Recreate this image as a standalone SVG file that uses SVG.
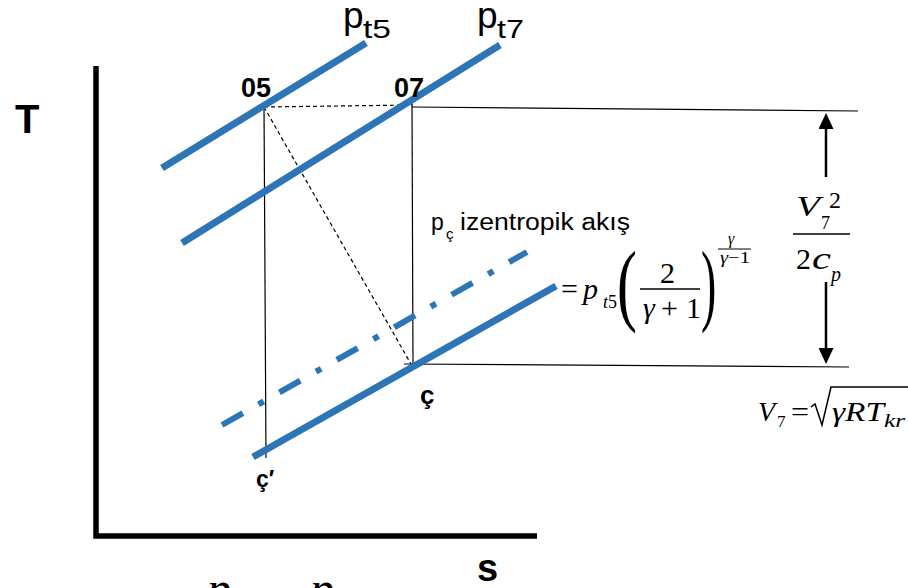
<svg xmlns="http://www.w3.org/2000/svg" width="908" height="588" viewBox="0 0 908 588">
<style>
.axis{stroke:#000;stroke-width:5.5;fill:none;stroke-linejoin:miter}
.iso{stroke:#2E75B6;stroke-width:7;fill:none}
.isodd{stroke:#2E75B6;stroke-width:6;stroke-dasharray:24 18 6 18;fill:none}
.thin{stroke:#000;stroke-width:1.2;fill:none}
.dash{stroke:#000;stroke-width:1.2;stroke-dasharray:4 3;fill:none}
.arr{stroke:#000;stroke-width:2.5;fill:none}
.bar{stroke:#000;stroke-width:1.5;fill:none}
.lbl{font-family:"Liberation Sans",Arial,sans-serif;fill:#000}
.b{font-weight:bold}
.m{font-family:"Liberation Serif","Times New Roman",serif;fill:#000}
.i{font-style:italic}
</style>
<defs>
<marker id="ah" viewBox="0 0 16 15" markerWidth="16" markerHeight="15" refX="0" refY="7.5" orient="auto" markerUnits="userSpaceOnUse">
<path d="M0,0 L16,7.5 L0,15 z" fill="#000"/>
</marker>
</defs>

<g id="axes">
<path class="axis" d="M96,66 V536 H537"/>
<text class="lbl b" x="15" y="133" font-size="40">T</text>
<text class="lbl b" x="477" y="581" font-size="38">s</text>
</g>

<g id="connectors">
<path class="thin" d="M264,104 L266,458"/>
<path class="thin" d="M412,103 L413,366"/>
<path class="thin" d="M412,107 L858,111"/>
<path class="thin" d="M404,364 L849,367"/>
<path class="dash" d="M264,107 L412,105"/>
<path class="dash" d="M264,107 L411,364"/>
<path class="arr" d="M826,177 V129" marker-end="url(#ah)"/>
<path class="arr" d="M826,282 V348" marker-end="url(#ah)"/>
</g>

<g id="isobar-pt5">
<path class="iso" d="M162,168 L366,43"/>
<text class="lbl" x="343" y="28" font-size="37">p<tspan x="363" y="38" font-size="25" textLength="28" lengthAdjust="spacingAndGlyphs">t5</tspan></text>
</g>

<g id="isobar-pt7">
<path class="iso" d="M182,243 L500,45"/>
<text class="lbl" x="477" y="28" font-size="37">p<tspan x="497" y="38" font-size="25" textLength="27" lengthAdjust="spacingAndGlyphs">t7</tspan></text>
</g>

<g id="isobar-pc">
<path class="iso" d="M253,457 L556,286"/>
</g>

<g id="isobar-pc-isentropic">
<path class="isodd" d="M222,425 L527,252"/>
<text class="lbl" x="431" y="230" font-size="23">p<tspan x="446" y="239" font-size="15">ç</tspan><tspan x="460" y="230" textLength="170" lengthAdjust="spacingAndGlyphs">izentropik akış</tspan></text>
</g>

<g id="state-05"><text class="lbl b" x="241" y="97" font-size="27">05</text></g>
<g id="state-07"><text class="lbl b" x="394" y="97" font-size="27">07</text></g>
<g id="state-c"><text class="lbl b" x="420" y="404" font-size="26">ç</text></g>
<g id="state-c-prime"><text class="lbl b" x="256" y="487" font-size="23">ç′</text></g>

<g id="eq-pc">
<text class="m" x="561" y="299" font-size="30">=</text>
<text class="m i" x="583" y="299" font-size="30">p</text>
<text class="m" x="603" y="308" font-size="18"><tspan class="i">t</tspan>5</text>
<text class="m" transform="translate(617,314) scale(0.65,1)" font-size="92">(</text>
<text class="m" x="660" y="283" font-size="30">2</text>
<path class="bar" d="M640,289 H700"/>
<text class="m" y="318" font-size="30"><tspan class="i" x="643">γ</tspan><tspan x="661">+</tspan><tspan x="686">1</tspan></text>
<text class="m" transform="translate(701,314) scale(0.5,1)" font-size="92">)</text>
<text class="m i" x="728" y="244" font-size="16">γ</text>
<path class="bar" d="M718,249 H751" style="stroke-width:1"/>
<text class="m" x="720" y="263" font-size="16" textLength="30" lengthAdjust="spacingAndGlyphs"><tspan class="i">γ</tspan>−1</text>
</g>

<g id="eq-dh">
<text class="m i" x="796" y="216" font-size="30" textLength="24" lengthAdjust="spacingAndGlyphs">V</text>
<text class="m" x="821" y="229" font-size="18">7</text>
<text class="m" x="829" y="208" font-size="24">2</text>
<path class="bar" d="M793,234 H850"/>
<text class="m" x="796" y="269" font-size="30">2</text>
<text class="m i" x="812" y="269" font-size="32" textLength="19" lengthAdjust="spacingAndGlyphs">c</text>
<text class="m i" x="831" y="281" font-size="20">p</text>
</g>

<g id="eq-v7">
<text class="m i" x="758" y="421" font-size="28">V</text>
<text class="m" x="777" y="427" font-size="17">7</text>
<text class="m" x="791" y="421" font-size="28" textLength="18" lengthAdjust="spacingAndGlyphs">=</text>
<polyline class="bar" points="811,407 815,404 822,425 831,387 908,387"/>
<text class="m i" x="832" y="421" font-size="28" textLength="52" lengthAdjust="spacingAndGlyphs">γRT</text>
<text class="m i" x="884" y="427" font-size="19" textLength="21" lengthAdjust="spacingAndGlyphs">kr</text>
</g>

<g id="eq-bottom">
<text class="m i" x="207" y="605" font-size="48">p</text>
<text class="m i" x="310" y="605" font-size="48">p</text>
</g>
</svg>
